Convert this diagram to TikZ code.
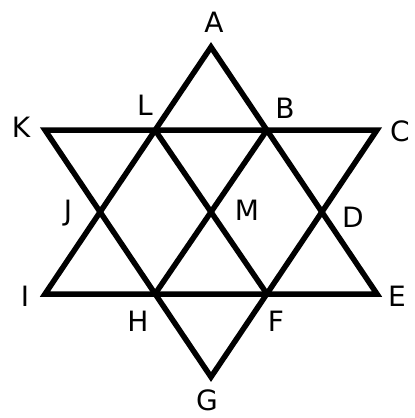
\documentclass[tikz,border=0pt]{standalone}
\usepackage{fontspec}
\setmainfont{DejaVu Sans}
\usepackage{tikz}

\begin{document}
\begin{tikzpicture}[x=1pt,y=-1pt,
    edge/.style={line width=5.5pt,line join=miter},
    letter/.style={inner sep=0pt,font=\fontsize{28}{28}\selectfont}]
    \useasboundingbox (0,0) rectangle (415,418);
    \foreach \name/\x/\y in {A/211/47,K/45/130,C/377/130,I/45/294,E/377/294,G/211/377,
        L/155/130,B/267/130,J/100/212,M/211/212,D/322/212,H/155/294,F/267/294} {
      \coordinate (\name) at (\x,\y);
    }
    \foreach \name/\x/\y in {A/214/22,B/285/108,C/400/131,D/353/217,E/397/296,F/276/321,
        G/207/400,H/138/321,I/25/296,J/68/213,K/21/127,L/145/105,M/247/210} {
      \node[letter] (t\name) at (\x,\y) {\name};
    }
    \draw[edge] (A) -- (I) -- (E) -- cycle;
    \draw[edge] (K) -- (C) -- (G) -- cycle;
    \draw[edge] (L) -- (F);
    \draw[edge] (B) -- (H);
  \end{tikzpicture}
\end{document}
